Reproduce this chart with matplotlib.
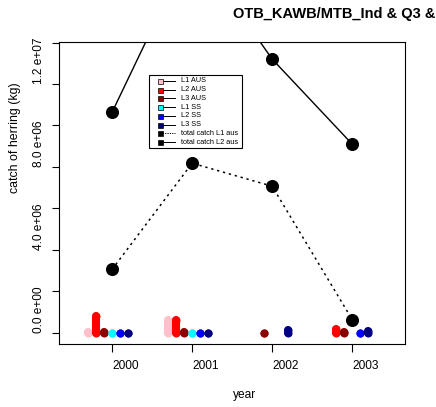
#!/usr/bin/env python3
"""Herring catch by year for OTB_KAWB/MTB_Ind, R base-graphics look."""

import matplotlib

matplotlib.use("Agg")
import matplotlib.pyplot as plt
import numpy as np

nan = np.nan

years = [2000, 2001, 2002, 2003]
l1_aus = [0.02e6, 0.62e6, nan, nan]
l2_aus = [0.80e6, 0.64e6, nan, 0.20e6]
l3_aus = [0.02e6, 0.03e6, 0.0, 0.02e6]
l1_ss = [0.0, 0.0, nan, nan]
l2_ss = [0.0, 0.0, nan, 0.0]
l3_ss = [0.0, 0.0, 0.15e6, 0.10e6]
total_l1_aus = [3.06e6, 8.18e6, 7.07e6, 0.64e6]
total_l2_aus = [10.64e6, 18.7e6, 13.2e6, 9.1e6]

series_names = ["L1 AUS", "L2 AUS", "L3 AUS", "L1 SS", "L2 SS", "L3 SS"]
series_values = [l1_aus, l2_aus, l3_aus, l1_ss, l2_ss, l3_ss]
series_colors = ["pink", "red", "darkred", "cyan", "blue", "navy"]
offsets = [-0.3, -0.2, -0.1, 0.0, 0.1, 0.2]

y_ticks = [0, 2e6, 4e6, 6e6, 8e6, 10e6, 12e6, 14e6]
y_labels = ["0.0 e+00", "", "4.0 e+06", "", "8.0 e+06", "", "1.2 e+07", ""]

FONT = "Liberation Sans"
plt.rcParams["font.family"] = [FONT, "DejaVu Sans"]

W, H = 436, 407
AX = [59.3, 41.7, 405.0, 344.0]  # left, top, right, bottom in pixels

fig = plt.figure(figsize=(W / 100, H / 100), dpi=100)
ax = fig.add_axes([AX[0] / W, 1 - AX[3] / H, (AX[2] - AX[0]) / W, (AX[3] - AX[1]) / H])


def ax_x(px):
    return (px - AX[0]) / (AX[2] - AX[0])


def ax_y(py):
    return 1 - (py - AX[1]) / (AX[3] - AX[1])


bar_lw = 5.8
for vals, col, off in zip(series_values, series_colors, offsets):
    for yr, v in zip(years, vals):
        if np.isnan(v):
            continue
        x = yr + off
        ax.plot([x, x], [0, v], color=col, lw=bar_lw, solid_capstyle="round")
        ax.plot([x, x], [0, v], "o", color=col, ms=bar_lw, mew=0)

ax.plot(years, total_l1_aus, color="black", lw=1.1, linestyle=(0, (1.5, 2.5)))
ax.plot(years, total_l1_aus, "o", color="black", ms=8.4)
ax.plot(years, total_l2_aus, color="black", lw=1.0)
ax.plot(years, total_l2_aus, "o", color="black", ms=8.4)

ax.set_xlim(1999.34, 2003.66)
ax.set_ylim(-0.54e6, 14.04e6)

for side in ax.spines.values():
    side.set_linewidth(0.8)
ax.tick_params(direction="out", length=5.4, width=0.8, labelsize=8.6)
ax.set_xticks(years, [str(y) for y in years])
for lab in ax.get_xticklabels():
    lab.set_ha("left")
ax.tick_params(axis="x", pad=6.0)
ax.set_yticks(y_ticks, y_labels)
for lab in ax.get_yticklabels():
    lab.set_rotation(90)
    lab.set_va("bottom")
ax.tick_params(axis="y", pad=4.8)

# legend drawn by hand: square marker then a short line, like R's legend()
lx0, lx1, ly0, ly1 = ax_x(149.3), ax_x(241.7), ax_y(148.3), ax_y(75.0)
ax.add_patch(plt.Rectangle((lx0, ly0), lx1 - lx0, ly1 - ly0, transform=ax.transAxes,
                           facecolor="white", edgecolor="black", lw=0.8, zorder=5))
leg_names = series_names + ["total catch L1 aus", "total catch L2 aus"]
leg_colors = series_colors + ["black", "black"]
leg_styles = ["-"] * 6 + [(0, (1.2, 1.2)), "-"]
for i, (name, col, ls) in enumerate(zip(leg_names, leg_colors, leg_styles)):
    yy = ax_y(80.7 + i * 8.8)
    ax.plot([ax_x(160.0), ax_x(175.0)], [yy, yy], color="black", lw=0.7, linestyle=ls,
            transform=ax.transAxes, zorder=6, clip_on=False)
    ax.plot([ax_x(160.0)], [yy], "s", ms=3.6, mfc=col, mec="black", mew=0.5,
            transform=ax.transAxes, zorder=7, clip_on=False)
    ax.text(ax_x(180.7), yy, name, transform=ax.transAxes, fontsize=5.3,
            ha="left", va="center", zorder=7)

fig.text(0.534, 0.955, "OTB_KAWB/MTB_Ind & Q3 &", fontsize=10.5,
         fontweight="bold", ha="left", va="baseline")
fig.text(0.534, 0.0214, "year", fontsize=8.6, ha="left", va="baseline")
fig.text(15 / W, 1 - 193 / H, "catch of herring (kg)", fontsize=8.9,
         rotation=90, ha="center", va="bottom")

fig.savefig("out.png", dpi=100)
